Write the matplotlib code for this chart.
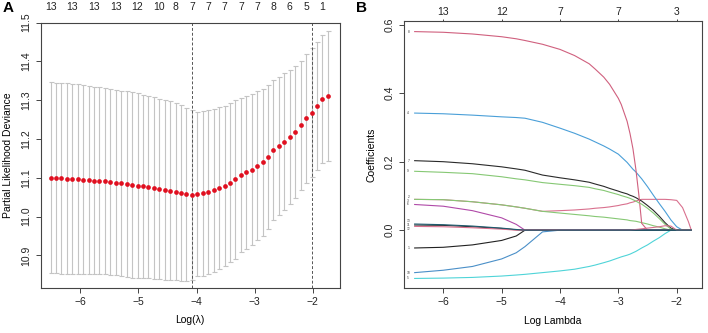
import numpy as np
import matplotlib
matplotlib.use("Agg")
import matplotlib.pyplot as plt

plt.rcParams["font.family"] = ["Liberation Sans", "DejaVu Sans"]

# Panel A: cross-validation curve
log_lambda = [
    -6.510, -6.417, -6.323, -6.230, -6.136, -6.043, -5.949, -5.856, -5.762, -5.669,
    -5.575, -5.482, -5.388, -5.295, -5.201, -5.108, -5.014, -4.921, -4.827, -4.734,
    -4.640, -4.547, -4.453, -4.360, -4.266, -4.173, -4.079, -3.986, -3.892, -3.799,
    -3.705, -3.612, -3.518, -3.425, -3.331, -3.238, -3.144, -3.051, -2.957, -2.864,
    -2.770, -2.677, -2.583, -2.490, -2.396, -2.303, -2.209, -2.116, -2.022, -1.929,
    -1.835, -1.742,
]
cvm = [
    11.100, 11.100, 11.099, 11.098, 11.097, 11.096, 11.095, 11.094, 11.093, 11.092,
    11.091, 11.089, 11.088, 11.086, 11.084, 11.082, 11.080, 11.078, 11.076, 11.074,
    11.072, 11.069, 11.067, 11.064, 11.061, 11.058, 11.056, 11.058, 11.060, 11.063,
    11.068, 11.073, 11.080, 11.088, 11.096, 11.107, 11.114, 11.121, 11.131, 11.140,
    11.154, 11.171, 11.183, 11.193, 11.205, 11.218, 11.235, 11.253, 11.268, 11.284,
    11.303, 11.311,
]
cvsd = [
    0.246, 0.245, 0.246, 0.246, 0.245, 0.245, 0.244, 0.243, 0.242, 0.241,
    0.240, 0.240, 0.239, 0.239, 0.239, 0.239, 0.238, 0.236, 0.235, 0.234,
    0.232, 0.232, 0.230, 0.228, 0.227, 0.223, 0.218, 0.211, 0.212, 0.212,
    0.210, 0.209, 0.206, 0.204, 0.204, 0.199, 0.197, 0.195, 0.192, 0.189,
    0.186, 0.180, 0.178, 0.177, 0.172, 0.169, 0.167, 0.166, 0.167, 0.165,
    0.165, 0.167,
]
nzero_idx = [0, 4, 8, 12, 16, 20, 23, 26, 29, 32, 35, 38, 41, 44, 47, 50]
nzero_labels = ["13", "13", "13", "13", "12", "10", "8", "7", "7", "7", "7", "7", "8", "6", "5", "1"]

# Panel B: coefficient paths
path_lambda = [
    -6.49, -6.0, -5.5, -5.0, -4.75, -4.6, -4.3, -4.0, -3.75, -3.5,
    -3.4, -3.25, -3.15, -3.0, -2.95, -2.85, -2.8, -2.75, -2.7, -2.65,
    -2.6, -2.5, -2.4, -2.3, -2.2, -2.1, -2.0, -1.9, -1.8, -1.75,
]
coef_paths = {
    "1": [-0.052, -0.050, -0.043, -0.030, -0.017, 0, 0, 0, 0, 0,
          0, 0, 0, 0, 0, 0, 0, 0, 0, 0,
          0, 0, 0, 0, 0, 0, 0, 0, 0, 0],
    "2": [0.090, 0.089, 0.083, 0.074, 0.068, 0.064, 0.055, 0.057, 0.059, 0.062,
          0.064, 0.066, 0.068, 0.072, 0.074, 0.077, 0.080, 0.082, 0.085, 0.088,
          0.090, 0.090, 0.090, 0.090, 0.090, 0.089, 0.087, 0.066, 0.025, 0],
    "3": [0.090, 0.089, 0.083, 0.074, 0.068, 0.064, 0.055, 0.050, 0.046, 0.042,
          0.040, 0.038, 0.036, 0.033, 0.032, 0.030, 0.028, 0.027, 0.026, 0.024,
          0.022, 0.018, 0.013, 0.009, 0.004, 0, 0, 0, 0, 0],
    "4": [0.342, 0.340, 0.336, 0.331, 0.329, 0.327, 0.315, 0.298, 0.283, 0.266,
          0.258, 0.246, 0.237, 0.222, 0.214, 0.198, 0.188, 0.178, 0.170, 0.160,
          0.150, 0.127, 0.102, 0.078, 0.055, 0.030, 0.010, 0, 0, 0],
    "5": [-0.141, -0.140, -0.138, -0.134, -0.131, -0.129, -0.124, -0.119, -0.114, -0.106,
          -0.102, -0.095, -0.090, -0.081, -0.078, -0.073, -0.070, -0.066, -0.062, -0.057,
          -0.052, -0.043, -0.032, -0.022, -0.010, 0, 0, 0, 0, 0],
    "6": [0.075, 0.070, 0.057, 0.036, 0.017, 0, 0, 0, 0, 0,
          0, 0, 0, 0, 0, 0, 0, 0, 0, 0,
          0, 0, 0, 0, 0, 0, 0, 0, 0, 0],
    "7": [0.203, 0.200, 0.194, 0.185, 0.179, 0.175, 0.161, 0.153, 0.147, 0.140,
          0.135, 0.128, 0.122, 0.114, 0.111, 0.106, 0.102, 0.099, 0.095, 0.090,
          0.085, 0.072, 0.058, 0.041, 0.022, 0.006, 0, 0, 0, 0],
    "8": [0.580, 0.578, 0.573, 0.565, 0.559, 0.554, 0.543, 0.528, 0.510, 0.486,
          0.471, 0.447, 0.426, 0.385, 0.367, 0.318, 0.282, 0.238, 0.178, 0.105,
          0.020, 0, 0, 0, 0, 0, 0, 0, 0, 0],
    "9": [0.172, 0.169, 0.165, 0.156, 0.150, 0.147, 0.139, 0.134, 0.130, 0.125,
          0.121, 0.116, 0.111, 0.104, 0.101, 0.096, 0.093, 0.089, 0.085, 0.080,
          0.076, 0.064, 0.050, 0.034, 0.017, 0.003, 0, 0, 0, 0],
    "10": [-0.124, -0.117, -0.106, -0.084, -0.066, -0.048, -0.005, 0, 0, 0,
           0, 0, 0, 0, 0, 0, 0, 0, 0, 0,
           0, 0, 0, 0, 0, 0, 0, 0, 0, 0],
    "11": [0.015, 0.014, 0.010, 0.005, 0.001, 0, 0, 0, 0, 0,
           0, 0, 0, 0, 0, 0, 0, 0, 0, 0,
           0, 0, 0, 0, 0, 0, 0, 0, 0, 0],
    "12": [0.011, 0.010, 0.007, 0.003, 0, 0, 0, 0, 0, 0,
           0, 0, 0, 0, 0, 0, 0, 0.001, 0.002, 0.003,
           0.004, 0.006, 0.008, 0.010, 0.013, 0.012, 0, 0, 0, 0],
    "13": [0.018, 0.016, 0.012, 0.006, 0.002, 0, 0, 0, 0, 0,
           0, 0, 0, 0, 0, 0, 0, 0, 0, 0,
           0, 0, 0, 0, 0, 0, 0, 0, 0, 0],
}
path_colors = {
    "1": "#222222", "2": "#d9708e", "3": "#86c874", "4": "#4a9fd8", "5": "#4fd4d8",
    "6": "#b04aa8", "7": "#2a2a2a", "8": "#d0607e", "9": "#86c874", "10": "#4a8fc8",
    "11": "#303030", "12": "#d9708e", "13": "#1e5a6e",
}
# small vertical nudges so the stacked end labels stay readable
label_nudge = {"13": 0.009, "12": -0.007, "2": 0.006, "3": -0.006}
df_ticks = [-6, -5, -4, -3, -2]
df_labels = ["13", "12", "7", "7", "3"]

FS = 7.5
SPINE = "#444444"

fig = plt.figure(figsize=(7.08, 3.33), dpi=100)
ax_a = fig.add_axes([0.0575, 0.135, 0.4225, 0.797])
ax_b = fig.add_axes([0.5706, 0.134, 0.4214, 0.803])


def style_axes(ax):
    for s in ax.spines.values():
        s.set_color(SPINE)
        s.set_linewidth(0.8)
    ax.tick_params(axis="both", length=3.5, width=0.7, color=SPINE,
                   labelsize=FS, labelcolor="#222222", pad=3)
    for lab in ax.get_yticklabels():
        lab.set_rotation(90)
        lab.set_va("center")


# ---- Panel A
x = np.array(log_lambda)
m = np.array(cvm)
sd = np.array(cvsd)
ax_a.errorbar(x, m, yerr=sd, fmt="none", ecolor="#c4c4c4", elinewidth=0.8,
              capsize=1.8, capthick=0.8, zorder=1)
ax_a.plot(x, m, "o", color="#e01020", markersize=3.4, markeredgewidth=0, zorder=3)

i_min = int(np.argmin(m))
i_1se = int(np.max(np.where(m <= m[i_min] + sd[i_min])[0]))
for i in (i_min, i_1se):
    ax_a.axvline(x[i], color="#555555", lw=0.7, ls=(0, (3, 2)), zorder=2)

ax_a.set_xlim(-6.68, -1.535)
ax_a.set_ylim(10.816, 11.5)
ax_a.set_xticks([-6, -5, -4, -3, -2])
ax_a.set_yticks([10.9, 11.0, 11.1, 11.2, 11.3, 11.4, 11.5])
ax_a.set_xlabel("Log(λ)", fontsize=FS, labelpad=6)
ax_a.set_ylabel("Partial Likelihood Deviance", fontsize=FS, labelpad=6)
style_axes(ax_a)

top_a = ax_a.secondary_xaxis("top")
top_a.set_xticks([x[i] for i in nzero_idx])
top_a.set_xticklabels(nzero_labels)
top_a.tick_params(length=0, labelsize=FS, labelcolor="#222222", pad=7.5)
top_a.spines["top"].set_visible(False)

# ---- Panel B
for name, vals in coef_paths.items():
    ax_b.plot(path_lambda, vals, color=path_colors[name], lw=0.8)
    ax_b.text(path_lambda[0] - 0.11, vals[0] + label_nudge.get(name, 0), name,
              fontsize=2.3, ha="center", va="center", color="#333333")

ax_b.set_xlim(-6.673, -1.561)
ax_b.set_ylim(-0.170, 0.611)
ax_b.set_xticks([-6, -5, -4, -3, -2])
ax_b.set_yticks([0.0, 0.2, 0.4, 0.6])
ax_b.set_yticklabels(["0.0", "0.2", "0.4", "0.6"])
ax_b.set_xlabel("Log Lambda", fontsize=FS, labelpad=6)
ax_b.set_ylabel("Coefficients", fontsize=FS, labelpad=6)
style_axes(ax_b)

top_b = ax_b.secondary_xaxis("top")
top_b.set_xticks(df_ticks)
top_b.set_xticklabels(df_labels)
top_b.tick_params(length=1.5, width=0.7, color=SPINE, labelsize=FS,
                  labelcolor="#222222", pad=1.5)
top_b.spines["top"].set_visible(False)

fig.text(0.004, 0.975, "A", fontsize=11, fontweight="bold", ha="left", va="center")
fig.text(0.503, 0.975, "B", fontsize=11, fontweight="bold", ha="left", va="center")

fig.savefig("out.png", dpi=100)
